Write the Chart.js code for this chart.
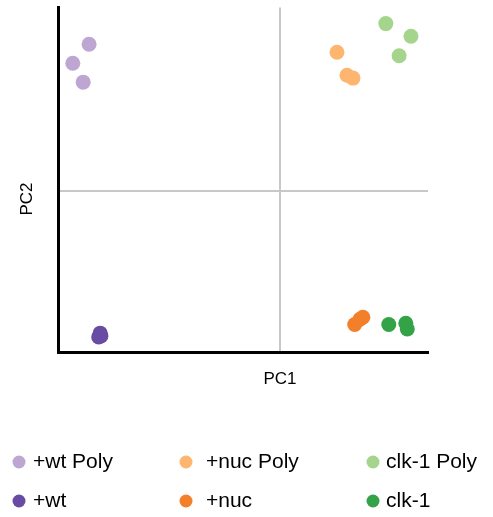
<!DOCTYPE html>
<html>
<head>
<meta charset="utf-8">
<script src="https://cdn.jsdelivr.net/npm/chart.js@4"></script>
<style>
  html, body { margin: 0; padding: 0; background: #fff; }
  #wrap { width: 493px; height: 517px; }
</style>
</head>
<body>
<div id="wrap"><canvas id="pca"></canvas></div>
<script>
// PCA scatter, values (PC1, PC2)
var groupNames = ["+wt Poly", "+nuc Poly", "clk-1 Poly", "+wt", "+nuc", "clk-1"];
var groupColors = ["#BEA6D2", "#FDB56F", "#A5D58D", "#6A4BA3", "#F47F2A", "#34A348"];
var axisNames = ["PC1", "PC2"];

var wtPolyX = [-25.8, -28.0, -26.6];
var wtPolyY = [12.8, 11.15, 9.5];
var nucPolyX = [7.7, 9.05, 9.86];
var nucPolyY = [12.1, 10.1, 9.85];
var clkPolyX = [14.3, 17.7, 16.1];
var clkPolyY = [14.6, 13.5, 11.8];
var wtX = [-24.3, -24.2, -24.5];
var wtY = [-12.36, -12.6, -12.7];
var nucX = [10.1, 10.8, 11.2];
var nucY = [-11.6, -11.15, -10.97];
var clkX = [14.7, 17.0, 17.2];
var clkY = [-11.6, -11.5, -12.0];

var xSeries = [wtPolyX, nucPolyX, clkPolyX, wtX, nucX, clkX];
var ySeries = [wtPolyY, nucPolyY, clkPolyY, wtY, nucY, clkY];

function toPoints(xs, ys) {
    return xs.map(function (x, i) { return { x: x, y: ys[i] }; });
}

var datasets = groupNames.map(function (name, i) {
    return {
        label: name,
        data: toPoints(xSeries[i], ySeries[i]),
        backgroundColor: groupColors[i],
        borderColor: groupColors[i],
        borderWidth: 0,
        pointRadius: 7.5,
        pointHoverRadius: 7.5
    };
});

var FONT = '"Liberation Sans", Arial, sans-serif';

// axis titles sit under / beside the zero lines, legend is a 3 x 2 grid
var extras = {
    id: 'extras',
    afterDraw: function (chart) {
        var ctx = chart.ctx;
        var area = chart.chartArea;
        var x0 = chart.scales.x.getPixelForValue(0);
        ctx.save();
        ctx.fillStyle = '#000';
        ctx.textAlign = 'center';
        ctx.textBaseline = 'middle';
        ctx.font = '17px ' + FONT;
        ctx.fillText(axisNames[0], x0, area.bottom + 27);
        ctx.translate(27, 199);
        ctx.rotate(-Math.PI / 2);
        ctx.fillText(axisNames[1], 0, 0);
        ctx.restore();

        var markX = [19, 186, 373];
        var textX = [33, 206, 386];
        var rowY = [462, 501];
        ctx.save();
        ctx.font = '21px ' + FONT;
        ctx.textBaseline = 'middle';
        ctx.textAlign = 'left';
        chart.data.datasets.forEach(function (ds, i) {
            var col = i % 3, row = Math.floor(i / 3);
            ctx.fillStyle = ds.backgroundColor;
            ctx.beginPath();
            ctx.arc(markX[col], rowY[row], 6.5, 0, Math.PI * 2);
            ctx.fill();
            ctx.fillStyle = '#000';
            ctx.fillText(ds.label, textX[col], rowY[row]);
        });
        ctx.restore();
    }
};

function zeroLine(c) {
    return c.tick && c.tick.value === 0 ? '#C8C8C8' : 'rgba(0,0,0,0)';
}

new Chart(document.getElementById('pca'), {
    type: 'scatter',
    data: { datasets: datasets },
    plugins: [extras],
    options: {
        responsive: true,
        maintainAspectRatio: false,
        animation: false,
        layout: { padding: { left: 0, top: 5, right: 65, bottom: 125 } },
        plugins: { legend: { display: false }, tooltip: { enabled: false } },
        scales: {
            x: {
                min: -30, max: 20,
                ticks: { display: false, stepSize: 10 },
                grid: { color: zeroLine, lineWidth: 2, drawTicks: false },
                border: { color: '#000', width: 3 },
                afterFit: function (s) { s.height = 40; }
            },
            y: {
                min: -14, max: 16,
                ticks: { display: false, stepSize: 2 },
                grid: { color: zeroLine, lineWidth: 2, drawTicks: false },
                border: { color: '#000', width: 3 },
                afterFit: function (s) { s.width = 58; }
            }
        }
    }
});
</script>
</body>
</html>
